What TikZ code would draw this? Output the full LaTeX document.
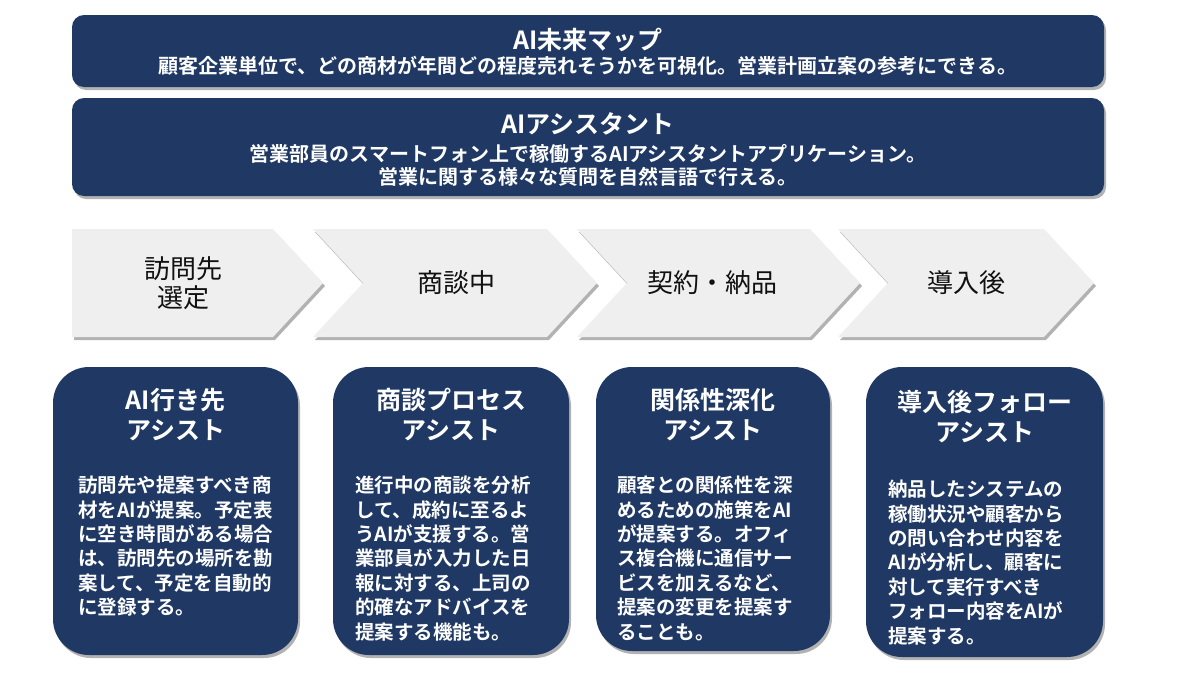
\documentclass[tikz,border=0pt]{standalone}
\usepackage{fontspec}
\setmainfont{Noto Sans CJK JP}[BoldFont={Noto Sans CJK JP Bold}]
\usetikzlibrary{shadows}
\definecolor{navy}{HTML}{1F3864}
\definecolor{chev}{HTML}{EFEFEF}
\definecolor{chevtext}{HTML}{111111}
\begin{document}
\begin{tikzpicture}[x=1pt,y=-1pt,
  softshadow/.style={drop shadow={shadow xshift=2pt,shadow yshift=-3pt,opacity=0.3,fill=black}},
  banner/.style={fill=navy, rounded corners=12pt, softshadow, inner sep=0pt, minimum width=1032pt},
  card/.style={fill=navy, rounded corners=36pt, softshadow, inner sep=0pt},
  chevron/.style={fill=chev, softshadow},
  btitle/.style={text=white, font=\fontsize{25}{29}\selectfont\bfseries, align=center, inner sep=0pt},
  bsub/.style={text=white, font=\fontsize{20}{23}\selectfont\bfseries, align=center, inner sep=0pt},
  ctitle/.style={text=white, font=\fontsize{25}{30}\selectfont\bfseries, align=center, inner sep=0pt},
  cbody/.style={text=white, font=\fontsize{19.5}{24.4}\selectfont\bfseries, align=left, anchor=north west, inner sep=0pt},
  clabel/.style={text=chevtext, font=\fontsize{26}{29}\selectfont, align=center, inner sep=0pt}
]
\useasboundingbox (0,0) rectangle (1200,675);
\fill[white] (0,0) rectangle (1200,675);

% banners
\node[banner, minimum height=72pt] (ban1) at (588,51) {};
\node[btitle] (ban1t) at (588,40) {AI未来マップ};
\node[bsub] (ban1s) at (588,66) {顧客企業単位で、どの商材が年間どの程度売れそうかを可視化。営業計画立案の参考にできる。};

\node[banner, minimum height=98pt] (ban2) at (588,147) {};
\node[btitle] (ban2t) at (588,124) {AIアシスタント};
\node[bsub] (ban2s) at (588,165) {営業部員のスマートフォン上で稼働するAIアシスタントアプリケーション。\\営業に関する様々な質問を自然言語で行える。};

% chevrons
\path[chevron] (72,229) -- (273,229) -- (323,283) -- (273,337) -- (72,337) -- cycle;
\path[chevron] (313,229) -- (547,229) -- (597,283) -- (547,337) -- (313,337) -- (363,283) -- cycle;
\path[chevron] (577,229) -- (810,229) -- (860,283) -- (810,337) -- (577,337) -- (627,283) -- cycle;
\path[chevron] (838,229) -- (1044,229) -- (1094,283) -- (1044,337) -- (838,337) -- (888,283) -- cycle;

\node[clabel] (l1) at (183,283) {訪問先\\選定};
\node[clabel] (l2) at (456,283) {商談中};
\node[clabel] (l3) at (712,283) {契約・納品};
\node[clabel] (l4) at (966,283) {導入後};

% cards
\node[card, minimum width=245pt, minimum height=288pt] (c1) at (175.5,511) {};
\node[card, minimum width=236pt, minimum height=288pt] (c2) at (451,511) {};
\node[card, minimum width=234pt, minimum height=284pt] (c3) at (713,509) {};
\node[card, minimum width=237pt, minimum height=290pt] (c4) at (984.5,512) {};

\node[ctitle] (t1) at (175.5,415) {AI行き先\\アシスト};
\node[ctitle] (t2) at (451,415) {商談プロセス\\アシスト};
\node[ctitle] (t3) at (713,415) {関係性深化\\アシスト};
\node[ctitle] (t4) at (984.5,417) {導入後フォロー\\アシスト};

\node[cbody] (b1) at (78,476) {訪問先や提案すべき商\\材をAIが提案。予定表\\に空き時間がある場合\\は、訪問先の場所を勘\\案して、予定を自動的\\に登録する。};
\node[cbody] (b2) at (355,476) {進行中の商談を分析\\して、成約に至るよ\\うAIが支援する。営\\業部員が入力した日\\報に対する、上司の\\的確なアドバイスを\\提案する機能も。};
\node[cbody] (b3) at (617,476) {顧客との関係性を深\\めるための施策をAI\\が提案する。オフィ\\ス複合機に通信サー\\ビスを加えるなど、\\提案の変更を提案す\\ることも。};
\node[cbody] (b4) at (888,480) {納品したシステムの\\稼働状況や顧客から\\の問い合わせ内容を\\AIが分析し、顧客に\\対して実行すべき\\フォロー内容をAIが\\提案する。};
\end{tikzpicture}
\end{document}
